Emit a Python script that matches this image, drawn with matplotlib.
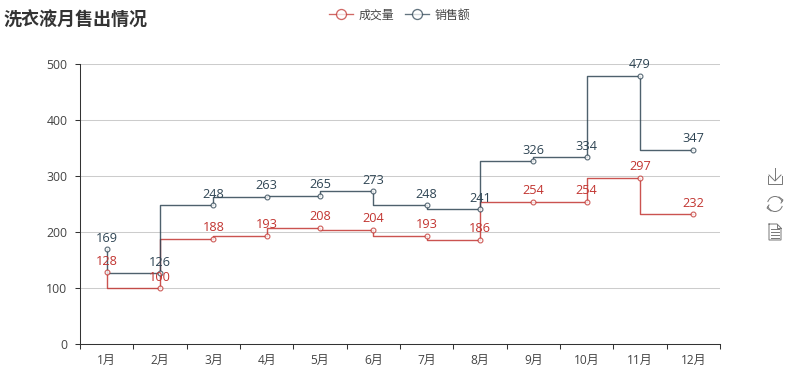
import numpy as np
import matplotlib
matplotlib.use('Agg')
import matplotlib.pyplot as plt
from matplotlib.lines import Line2D
from matplotlib.patches import Arc

plt.rcParams['font.family'] = ['Open Sans', 'Noto Sans CJK SC', 'DejaVu Sans']

meses = ['1月', '2月', '3月', '4月', '5月', '6月', '7月', '8月', '9月', '10月', '11月', '12月']
chengjiao = [128, 100, 188, 193, 208, 204, 193, 186, 254, 254, 297, 232]
xiaoshou = [169, 126, 248, 263, 265, 273, 248, 241, 326, 334, 479, 347]
yticks = [0, 100, 200, 300, 400, 500]

vermelho = '#c23531'
azul = '#2f4554'
cinza_icone = '#777777'
W, H = 795, 380

fig = plt.figure(figsize=(W / 100, H / 100), dpi=100)
ax = fig.add_axes([80 / W, 1 - 344 / H, 640 / W, 280 / H])

x = np.arange(len(meses))

# degrau: sobe/desce no ponto atual e depois anda na horizontal
for valores, cor, nome in [(chengjiao, vermelho, '成交量'), (xiaoshou, azul, '销售额')]:
    ax.plot(x, valores, drawstyle='steps-pre', color=cor, lw=1.0, alpha=0.85, zorder=3, label=nome)
    ax.plot(x, valores, ls='none', marker='o', ms=3.5, mfc='white', mec=cor, mew=0.8, alpha=0.8, zorder=4)
    for xi, v in zip(x, valores):
        ax.annotate(str(v), (xi, v), xytext=(0, 3.2), textcoords='offset points', ha='center', va='bottom',
                    color=cor, fontsize=9.2, zorder=5)

ax.set_xlim(-0.5, 11.5)
ax.set_ylim(0, 500)
ax.set_yticks(yticks)
ax.set_xticks(np.arange(-0.5, 12, 1))
ax.set_xticklabels([])
ax.set_xticks(x, minor=True)
ax.set_xticklabels(meses, minor=True)
ax.tick_params(axis='x', which='major', length=3.6, width=0.75, color='#333333', direction='out')
ax.tick_params(axis='x', which='minor', length=0, pad=7, labelsize=8.6, labelcolor='#444444')
ax.tick_params(axis='y', length=3.6, width=0.75, color='#333333', pad=5.5, labelsize=8.8, labelcolor='#444444')
ax.grid(axis='y', color='#cccccc', lw=0.75)
ax.set_axisbelow(True)
for lado in ['top', 'right']:
    ax.spines[lado].set_visible(False)
for lado in ['left', 'bottom']:
    ax.spines[lado].set_color('#333333')
    ax.spines[lado].set_linewidth(0.75)

fig.text(4 / W, 1 - 20 / H, '洗衣液月售出情况', fontsize=13, fontweight='bold', color='#333333', va='center', ha='left',
         family=['Noto Sans CJK SC', 'DejaVu Sans'])

# legenda
handles = [
    Line2D([], [], color=vermelho, lw=0.95, alpha=0.75, marker='o', ms=7.2, mfc='white', mew=0.95),
    Line2D([], [], color=azul, lw=0.95, alpha=0.75, marker='o', ms=7.2, mfc='white', mew=0.95),
]
fig.legend(handles, ['成交量', '销售额'], ncol=2, loc='center left', bbox_to_anchor=(329 / W, 1 - 15 / H),
           frameon=False, fontsize=8.6, labelcolor='#444444', handlelength=2.0, handletextpad=0.45,
           columnspacing=0.95, borderpad=0, borderaxespad=0)


# icones da toolbox, coordenadas em pixels da figura
def traco(xs, ys):
    fig.add_artist(Line2D([a / W for a in xs], [1 - b / H for b in ys], transform=fig.transFigure,
                          color=cinza_icone, lw=0.7, solid_joinstyle='miter'))


# baixar
traco([768, 768, 782, 782], [176, 184, 184, 176])
traco([775, 775], [168, 180])
traco([769, 775, 781], [175, 181, 175])
# atualizar
caixa = fig.add_axes([767 / W, 1 - 212 / H, 16 / W, 16 / H])
caixa.set_xlim(767, 783)
caixa.set_ylim(212, 196)
caixa.axis('off')
caixa.add_patch(Arc((775, 204), 15, 15, theta1=195, theta2=345, color=cinza_icone, lw=0.7))
caixa.add_patch(Arc((775, 204), 15, 15, theta1=15, theta2=165, color=cinza_icone, lw=0.7))
traco([779, 783, 781], [197, 200, 203])
traco([771, 767, 769], [211, 208, 205])
# documento
traco([769, 777, 781, 781, 769, 769], [224, 224, 228, 240, 240, 224])
traco([777, 777, 781], [224, 228, 228])
traco([771, 779], [229, 229])
traco([771, 779], [232, 232])
traco([771, 779], [235, 235])
traco([771, 779], [238, 238])

fig.savefig('out.png', dpi=100)
